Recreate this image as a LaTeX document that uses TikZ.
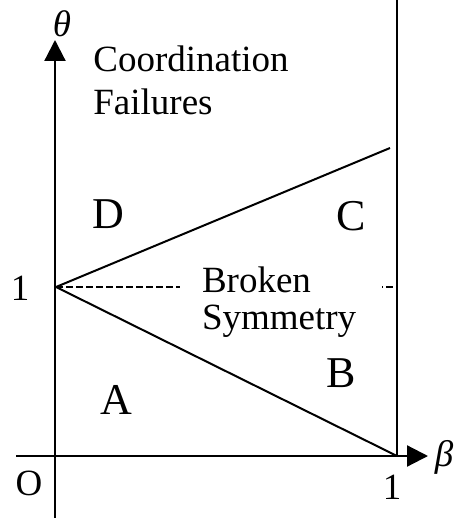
\documentclass[tikz,border=0pt]{standalone}
\usepackage{fontspec}
\setmainfont{Liberation Serif}
\usetikzlibrary{arrows.meta}

\begin{document}
\begin{tikzpicture}[x=0.5pt, y=-0.5pt, every node/.style={font=\fontsize{18.5}{21.5}\selectfont, inner sep=0pt}, axis/.style={line width=1.1pt, -{Triangle[length=10.5pt, width=10.5pt]}}, border/.style={line width=1pt}, region/.style={font=\fontsize{22}{24}\selectfont}]
\useasboundingbox (0,0) rectangle (464,518);
% axes and boundaries
\coordinate (ybot) at (55,518); \coordinate (ytop) at (55,40);
\coordinate (xleft) at (16,456); \coordinate (xright) at (428,456);
\coordinate (apex) at (56,287); \coordinate (upend) at (390,148);
\coordinate (rtop) at (397,0); \coordinate (rbot) at (397,456);
\coordinate (dashend) at (397,287);
\draw[axis] (ybot)--(ytop); \draw[axis] (xleft)--(xright);
\draw[border] (rtop)--(rbot); \draw[border] (apex)--(upend); \draw[border] (apex)--(rbot);
\draw[border, dash pattern=on 3.5pt off 1.5pt] (apex)--(dashend);
% labels
\node[fill=white, text width=79pt, inner xsep=11pt, inner ysep=4.5pt, align=left, font=\fontsize{18.5}{18.5}\selectfont] (broken) at (281,302) {Broken\\Symmetry};
\node[anchor=base west, align=left] (coord) at (93,115) {Coordination\\Failures};
\node[region] (regD) at (108,214) {D};
\node[region] (regC) at (351,216) {C};
\node[region] (regB) at (341,373) {B};
\node[region] (regA) at (116,400) {A};
\node (theta) at (62,24) {\itshape θ};
\node (beta) at (444,457) {\itshape β};
\node (orig) at (29,483) {O};
\node (onex) at (392,487) {1};
\node (oney) at (20,288) {1};
\end{tikzpicture}
\end{document}
